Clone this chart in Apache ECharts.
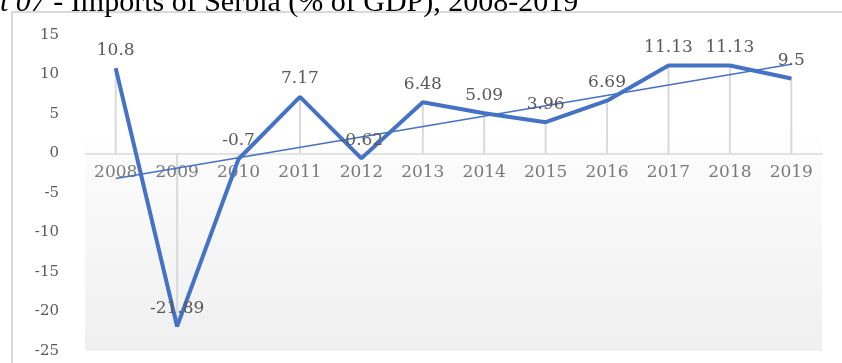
<!DOCTYPE html>
<html>
<head>
<meta charset="utf-8">
<script src="https://cdn.jsdelivr.net/npm/echarts@6/dist/echarts.min.js"></script>
<style>
  html, body { margin: 0; padding: 0; background: #fff; }
  #main { width: 842px; height: 363px; }
</style>
</head>
<body>
<div id="main"></div>
<script>
// imports of Serbia, % of GDP
const years = ['2008', '2009', '2010', '2011', '2012', '2013', '2014', '2015', '2016', '2017', '2018', '2019'];
const imports = [10.8, -21.89, -0.7, 7.17, -0.62, 6.48, 5.09, 3.96, 6.69, 11.13, 11.13, 9.5];
// linear trend, start and end values
const trendEnds = [-3.16, 11.29];
const yTicks = { min: -25, max: 15, step: 5 };

const trend = years.map(function (y, i) {
    if (i === 0) return trendEnds[0];
    if (i === years.length - 1) return trendEnds[1];
    return null;
});
// year labels sit on the zero line
const yearMarks = years.map(function (y) { return [y, 0]; });

const serif = 'DejaVu Serif';
const textGray = '#595959';

let chart = echarts.init(document.getElementById('main'));

let option = {
    animation: false,
    graphic: [{
        type: 'rect',
        shape: { x: 12, y: 12, width: 900, height: 400 },
        style: { fill: 'none', stroke: '#d9d9d9', lineWidth: 2 },
        z: 0
    }, {
        type: 'text',
        left: 0,
        top: -12,
        style: {
            text: '{i|t 07} - Imports of Serbia (% of GDP), 2008-2019',
            font: '30px "Liberation Serif"',
            fill: '#000',
            rich: {
                i: { fontStyle: 'italic', fontFamily: 'Liberation Serif', fontSize: 30, fill: '#000' }
            }
        }
    }],
    grid: {
        left: 85,
        right: 20,
        top: 35,
        bottom: 12,
        show: true,
        borderWidth: 0,
        backgroundColor: {
            type: 'linear', x: 0, y: 0, x2: 0, y2: 1,
            colorStops: [
                { offset: 0, color: '#ffffff' },
                { offset: 0.3, color: '#ffffff' },
                { offset: 0.45, color: '#fafafa' },
                { offset: 1, color: '#efefef' }
            ]
        }
    },
    xAxis: {
        type: 'category',
        data: years,
        axisLine: { onZero: true, lineStyle: { color: '#d9d9d9', width: 1.5 } },
        axisTick: { show: false },
        axisLabel: { show: false },
        splitLine: { show: false }
    },
    yAxis: {
        type: 'value',
        min: yTicks.min,
        max: yTicks.max,
        interval: yTicks.step,
        axisLine: { show: false },
        axisTick: { show: false },
        splitLine: { show: false },
        axisLabel: {
            color: textGray,
            fontFamily: serif,
            fontSize: 15,
            margin: 26
        }
    },
    series: [{
        // drop lines from each point to the category axis
        type: 'bar',
        data: imports,
        barWidth: 2,
        silent: true,
        itemStyle: { color: '#d9d9d9' },
        z: 1
    }, {
        // category labels on the zero line
        type: 'scatter',
        data: yearMarks,
        symbolSize: 0,
        silent: true,
        label: {
            show: true,
            position: 'bottom',
            distance: 11,
            formatter: function (p) { return p.value[0]; },
            color: textGray,
            fontFamily: serif,
            fontSize: 17
        },
        z: 2
    }, {
        name: 'Trend',
        type: 'line',
        data: trend,
        connectNulls: true,
        symbol: 'none',
        silent: true,
        lineStyle: { color: '#4472c4', width: 1.5 },
        z: 3
    }, {
        name: 'Imports',
        type: 'line',
        data: imports,
        symbol: 'circle',
        symbolSize: 1,
        itemStyle: { color: '#4472c4' },
        lineStyle: { color: '#4472c4', width: 4 },
        label: {
            show: true,
            position: 'top',
            distance: 9,
            color: textGray,
            fontFamily: serif,
            fontSize: 17
        },
        z: 4
    }]
};

chart.setOption(option);
</script>
</body>
</html>
